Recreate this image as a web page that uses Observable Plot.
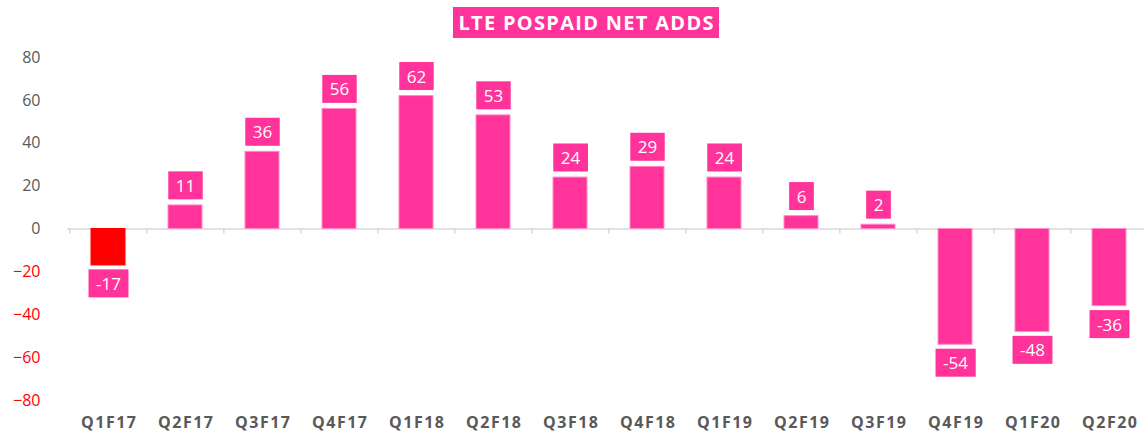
<!DOCTYPE html>
<html>
<head>
<meta charset="utf-8">
<script src="https://cdn.jsdelivr.net/npm/d3@7"></script>
<script src="https://cdn.jsdelivr.net/npm/@observablehq/plot@0.6"></script>
<style>
  html, body { margin: 0; padding: 0; background: #fff; overflow: hidden; }
  #wrap { position: relative; width: 1144px; height: 433px; }
  #title {
    position: absolute; left: 453px; top: 7px; width: 266px; height: 31px;
    background: #FF3399; color: #fff; font-family: "Open Sans", sans-serif;
    font-weight: 700; font-size: 20px; line-height: 31px; text-align: center;
    letter-spacing: 1.3px; text-indent: 1.3px; white-space: nowrap;
  }
  svg { position: absolute; left: 0; top: 0; }
  svg g[aria-label="x-axis tick label"] text { letter-spacing: 1.5px; }
</style>
</head>
<body>
<div id="wrap"><div id="title">LTE POSPAID NET ADDS</div></div>
<script>
const quarters = ["Q1F17","Q2F17","Q3F17","Q4F17","Q1F18","Q2F18","Q3F18","Q4F18","Q1F19","Q2F19","Q3F19","Q4F19","Q1F20","Q2F20"];
const netAdds = [-17, 11, 36, 56, 62, 53, 24, 29, 24, 6, 2, -54, -48, -36];
const yTicksPos = [0, 20, 40, 60, 80];
const yTicksNeg = [-20, -40, -60, -80];
const highlightQuarter = "Q1F17";

const data = quarters.map((q, i) => ({q, v: netAdds[i]}));
const PINK = "#FF3399";
const step = (1150 - 67) / quarters.length;

const chart = Plot.plot({
  width: 1144,
  height: 433,
  marginLeft: 67,
  marginRight: -6,
  marginTop: 57,
  marginBottom: 33,
  style: {fontFamily: "'Open Sans', sans-serif", background: "transparent"},
  x: {domain: quarters, paddingInner: 0.56, paddingOuter: 0.28, label: null},
  y: {domain: [-80, 80], label: null},
  marks: [
    Plot.ruleY([0], {stroke: "#d9d9d9", strokeWidth: 1.5}),
    Plot.ruleX(quarters, {x: d => d, y1: 0, y2: 0, insetBottom: -5, dx: -step / 2, stroke: "#d9d9d9", strokeWidth: 1.5}),
    Plot.barY(data, {x: "q", y: "v", fill: d => d.q === highlightQuarter ? "#FF0000" : PINK,
      stroke: d => d.q === highlightQuarter ? "#FF0000" : "#ff8cc6", strokeWidth: 1}),
    Plot.text(data.filter(d => d.v >= 0), {x: "q", y: "v", text: d => String(d.v), dy: -19,
      fill: "white", fontSize: 17, textAnchor: "middle", lineAnchor: "middle"}),
    Plot.text(data.filter(d => d.v < 0), {x: "q", y: "v", text: d => String(d.v), dy: 19,
      fill: "white", fontSize: 17, textAnchor: "middle", lineAnchor: "middle"}),
    Plot.axisY(yTicksPos, {tickSize: 0, tickPadding: 27, fontSize: 16, fill: "#595959", label: null}),
    Plot.axisY(yTicksNeg, {tickSize: 0, tickPadding: 27, fontSize: 16, fill: "#FF0000", label: null}),
    Plot.axisX({tickSize: 0, tickPadding: 16.5, fontSize: 16, fontWeight: "bold", fill: "#595959", label: null, dx: 0.75})
  ]
});

document.getElementById("wrap").prepend(chart);

// background boxes behind value labels
chart.querySelectorAll('g[aria-label="text"]').forEach(g => {
  g.querySelectorAll("text").forEach(t => {
    const b = t.getBBox();
    const cy = b.y + b.height / 2;
    const r = document.createElementNS("http://www.w3.org/2000/svg", "rect");
    r.setAttribute("x", b.x - 7.5);
    r.setAttribute("width", b.width + 15);
    r.setAttribute("y", cy - 14);
    r.setAttribute("height", 28);
    r.setAttribute("fill", PINK);
    const tr = t.getAttribute("transform");
    if (tr) r.setAttribute("transform", tr);
    t.parentNode.insertBefore(r, t);
  });
});
</script>
</body>
</html>
